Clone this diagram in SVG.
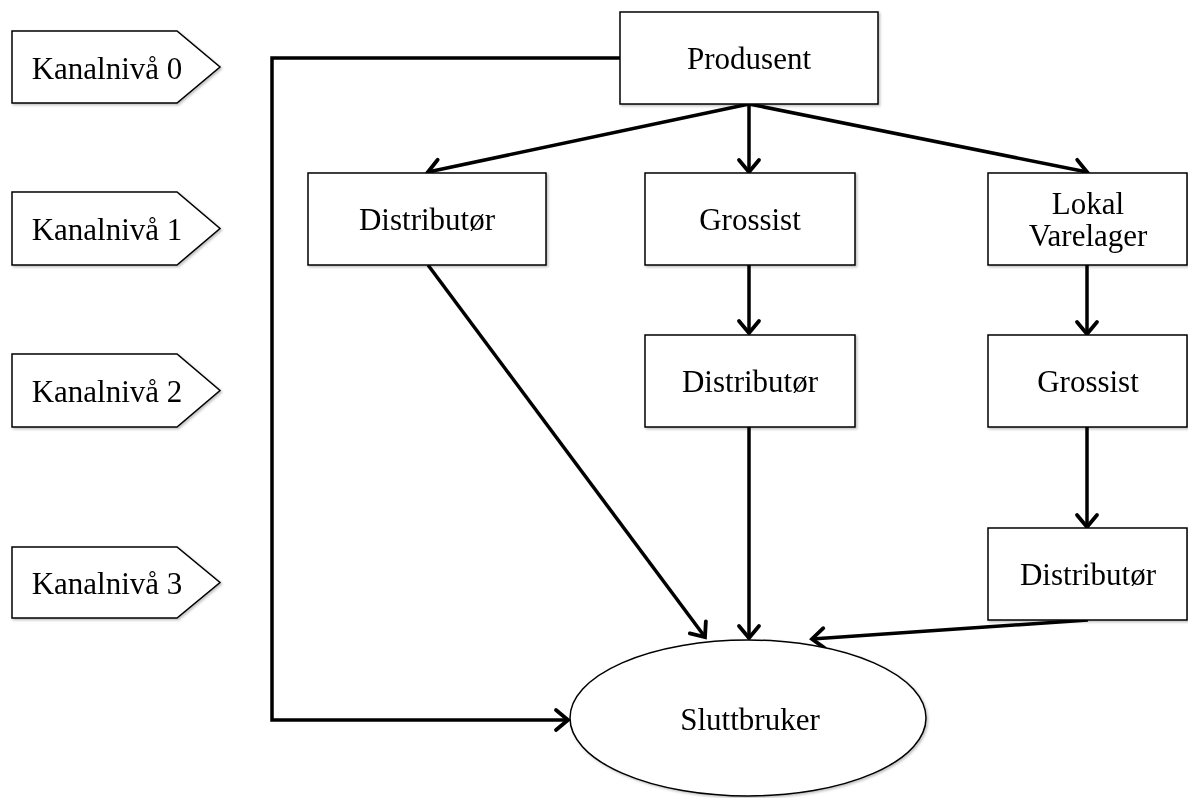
<svg xmlns="http://www.w3.org/2000/svg" width="1188" height="798" viewBox="0 0 1188 798">
<style>
.box{fill:#fff;stroke:#000;stroke-width:1.5}
.t{font-family:"Liberation Serif","Times New Roman",serif;font-size:31px;fill:#000;text-anchor:middle}
.c{fill:none;stroke:#000;stroke-width:3.5}
</style>
<defs>
<marker id="a" viewBox="-16 -16 32 32" refX="0" refY="0" markerWidth="32" markerHeight="32" markerUnits="userSpaceOnUse" orient="auto" overflow="visible">
<path d="M-12,-10 L0,0 L-12,10" fill="none" stroke="#000" stroke-width="3.8" stroke-linecap="round" stroke-linejoin="miter"/>
</marker>
<filter id="s" x="-10%" y="-10%" width="130%" height="130%"><feDropShadow dx="1.5" dy="1.5" stdDeviation="1" flood-color="#000" flood-opacity="0.25"/></filter>
</defs>
<rect width="1188" height="798" fill="#fff"/>

<g id="kanal0" filter="url(#s)"><path class="box" d="M12,31 H177 L220,67 L177,103 H12 Z"/><text class="t" x="107" y="79">Kanalnivå 0</text></g>
<g id="kanal1" filter="url(#s)"><path class="box" d="M12,192 H177 L220,228.5 L177,265 H12 Z"/><text class="t" x="107" y="240">Kanalnivå 1</text></g>
<g id="kanal2" filter="url(#s)"><path class="box" d="M12,354 H177 L220,390.5 L177,427 H12 Z"/><text class="t" x="107" y="402">Kanalnivå 2</text></g>
<g id="kanal3" filter="url(#s)"><path class="box" d="M12,547 H177 L220,582.5 L177,618 H12 Z"/><text class="t" x="107" y="594">Kanalnivå 3</text></g>

<g id="connectors">
<polyline class="c" points="620,58 272,58 272,720 568,720" marker-end="url(#a)"/>
<line class="c" x1="749" y1="104" x2="428" y2="172" marker-end="url(#a)"/>
<line class="c" x1="749" y1="104" x2="749" y2="172" marker-end="url(#a)"/>
<line class="c" x1="749" y1="104" x2="1087" y2="172" marker-end="url(#a)"/>
<line class="c" x1="749" y1="265" x2="749" y2="333" marker-end="url(#a)"/>
<line class="c" x1="1087" y1="265" x2="1087" y2="334" marker-end="url(#a)"/>
<line class="c" x1="1087" y1="427" x2="1087" y2="527" marker-end="url(#a)"/>
<line class="c" x1="428" y1="265" x2="705" y2="637" marker-end="url(#a)"/>
<line class="c" x1="749" y1="427" x2="749" y2="638" marker-end="url(#a)"/>
<line class="c" x1="1088" y1="620" x2="812" y2="639" marker-end="url(#a)"/>
</g>

<g id="produsent" filter="url(#s)"><rect class="box" x="620" y="12" width="258" height="92"/><text class="t" x="749" y="69">Produsent</text></g>
<g id="distributor1" filter="url(#s)"><rect class="box" x="308" y="173" width="238" height="92"/><text class="t" x="427" y="230">Distributør</text></g>
<g id="grossist1" filter="url(#s)"><rect class="box" x="645" y="173" width="210" height="92"/><text class="t" x="750" y="230">Grossist</text></g>
<g id="lokal" filter="url(#s)"><rect class="box" x="988" y="173" width="199" height="92"/><text class="t" x="1088" y="214">Lokal</text><text class="t" x="1088" y="246">Varelager</text></g>
<g id="distributor2" filter="url(#s)"><rect class="box" x="645" y="335" width="210" height="92"/><text class="t" x="750" y="392">Distributør</text></g>
<g id="grossist2" filter="url(#s)"><rect class="box" x="988" y="335" width="199" height="92"/><text class="t" x="1088" y="392">Grossist</text></g>
<g id="distributor3" filter="url(#s)"><rect class="box" x="988" y="528" width="199" height="92"/><text class="t" x="1088" y="585">Distributør</text></g>
<g id="sluttbruker" filter="url(#s)"><ellipse class="box" cx="748" cy="718" rx="178" ry="78"/><text class="t" x="750" y="730">Sluttbruker</text></g>
</svg>
